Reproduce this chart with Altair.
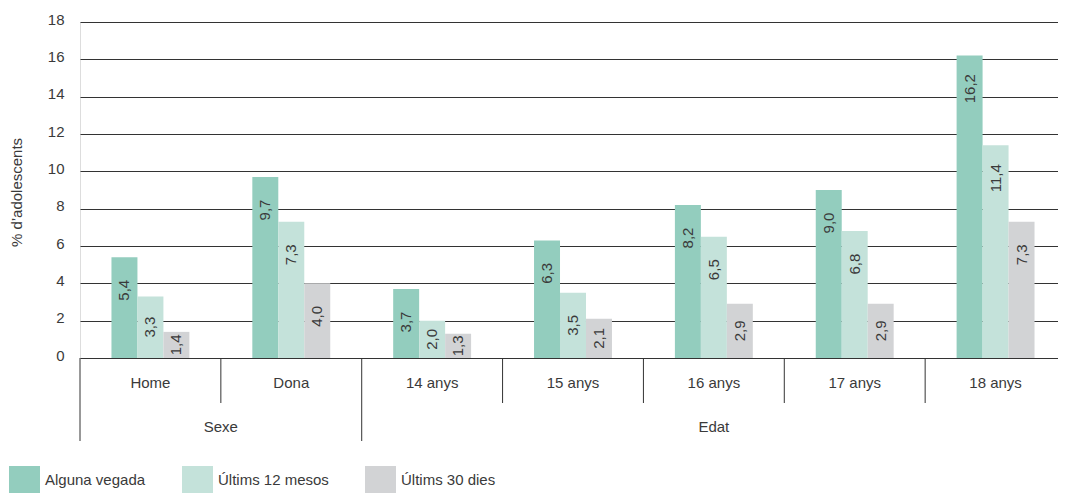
import altair as alt
import pandas as pd

categories = ["Home", "Dona", "14 anys", "15 anys", "16 anys", "17 anys", "18 anys"]
groups = ["Sexe", "Edat"]
group_sizes = [2, 5]
series = ["Alguna vegada", "Últims 12 mesos", "Últims 30 dies"]
alguna_vegada = [5.4, 9.7, 3.7, 6.3, 8.2, 9.0, 16.2]
ultims_12_mesos = [3.3, 7.3, 2.0, 3.5, 6.5, 6.8, 11.4]
ultims_30_dies = [1.4, 4.0, 1.3, 2.1, 2.9, 2.9, 7.3]
colors = ["#93CDBE", "#C4E2DA", "#D2D3D5"]
y_ticks = [0, 2, 4, 6, 8, 10, 12, 14, 16, 18]

FONT = "Liberation Sans"
TXT = "#3a3a3a"
LINE = "#333333"
W, H = 986, 336

rows = []
for i, cat in enumerate(categories):
    for s, vals in zip(series, [alguna_vegada, ultims_12_mesos, ultims_30_dies]):
        v = vals[i]
        rows.append({"cat": cat, "series": s, "value": v,
                     "label": f"{v:.1f}".replace(".", ",")})
df = pd.DataFrame(rows)

grp_rows = []
acc = 0
for g, n in zip(groups, group_sizes):
    grp_rows.append({"group": g, "start": acc, "end": acc + n})
    acc += n
grp_df = pd.DataFrame(grp_rows)
group_starts = {r["start"] for r in grp_rows}

sep_df = pd.DataFrame({
    "pos": list(range(len(categories))),
    "kind": ["long" if i in group_starts else "short" for i in range(len(categories))],
})
cat_df = pd.DataFrame({"cat": categories, "idx": list(range(len(categories)))})

x_band = alt.X("cat:N", sort=categories,
               scale=alt.Scale(domain=categories, paddingInner=0.4468, paddingOuter=0.2234),
               axis=None)
x_off = alt.XOffset("series:N", sort=series,
                    scale=alt.Scale(domain=series, paddingInner=0, paddingOuter=0))
y_scale = alt.Scale(domain=[0, 18], nice=False, zero=True)
y_axis = alt.Axis(values=y_ticks, title="% d’adolescents", grid=True,
                  gridColor=LINE, gridWidth=1, domain=False, ticks=False,
                  labelPadding=16, labelFontSize=15, labelFont=FONT, labelColor=TXT,
                  labelOffset=-3,
                  titleFontSize=15, titleFont=FONT, titleColor=TXT,
                  titleFontWeight="normal", titleX=-64, titleY=170,
                  titleAngle=270, titleAlign="center", titleBaseline="middle")

bars = alt.Chart(df).mark_bar(strokeWidth=0).encode(
    x=x_band, xOffset=x_off,
    y=alt.Y("value:Q", scale=y_scale, axis=y_axis),
    color=alt.Color("series:N", sort=series,
                    scale=alt.Scale(domain=series, range=colors),
                    legend=alt.Legend(title=None, orient="none", legendX=-71, legendY=442,
                                      direction="horizontal",
                                      symbolType="M-1,-0.87H1V0.87H-1Z",
                                      symbolSize=961, symbolStrokeWidth=0,
                                      labelFontSize=15, labelFont=FONT, labelColor=TXT,
                                      labelOffset=5, columnPadding=36)),
)

vlabels = alt.Chart(df).transform_calculate(
    lpos="max(datum.value - 1.77, datum.value / 2)"
).mark_text(angle=270, align="center", baseline="middle", fontSize=15,
            font=FONT, color=TXT).encode(
    x=x_band, xOffset=x_off,
    y=alt.Y("lpos:Q", scale=y_scale, axis=y_axis),
    text="label:N",
)

x_lin = alt.X("pos:Q", scale=alt.Scale(domain=[0, len(categories)], nice=False, zero=False),
              axis=None)

long_sep = alt.Chart(sep_df).transform_filter("datum.kind == 'long'").mark_rule(
    color=LINE, strokeWidth=1).encode(x=x_lin, y=alt.value(H), y2=alt.value(419))
short_sep = alt.Chart(sep_df).transform_filter("datum.kind == 'short'").mark_rule(
    color=LINE, strokeWidth=1).encode(x=x_lin, y=alt.value(H), y2=alt.value(381))

cat_labels = alt.Chart(cat_df).transform_calculate(pos="datum.idx + 0.5").mark_text(
    fontSize=15, font=FONT, color=TXT, baseline="alphabetic", align="center").encode(
    x=x_lin, y=alt.value(366), text="cat:N")

grp_labels = alt.Chart(grp_df).transform_calculate(
    pos="(datum.start + datum.end) / 2").mark_text(
    fontSize=15, font=FONT, color=TXT, baseline="alphabetic", align="center").encode(
    x=x_lin, y=alt.value(410), text="group:N")

chart = alt.layer(bars, vlabels, long_sep, short_sep, cat_labels, grp_labels).resolve_scale(
    x="independent"
).properties(
    width=W, height=H,
    autosize=alt.AutoSizeParams(type="none"),
    padding={"left": 72, "top": 14, "right": -8, "bottom": 135},
).configure_view(stroke=None).configure(font=FONT)

chart.save("out.html", embed_options={"renderer": "svg", "actions": False})
